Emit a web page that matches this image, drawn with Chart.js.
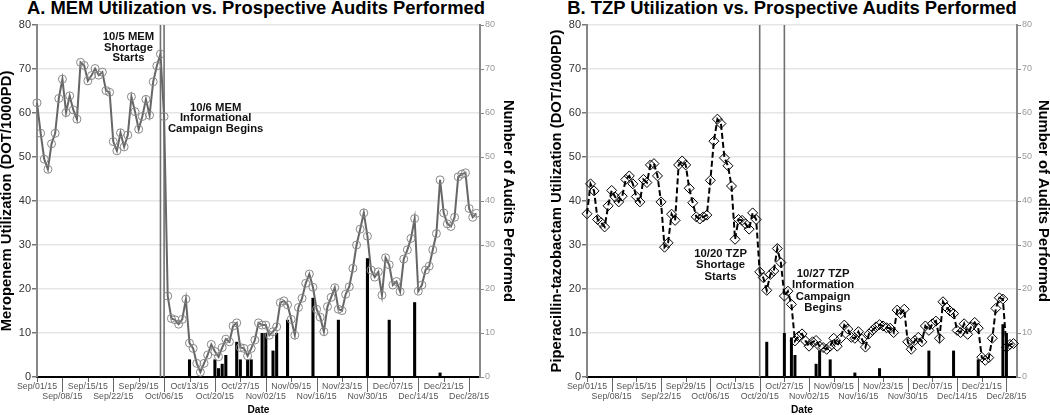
<!DOCTYPE html>
<html>
<head>
<meta charset="utf-8">
<script src="https://cdn.jsdelivr.net/npm/chart.js@4.4.1/dist/chart.umd.min.js"></script>
<style>
  body { margin: 0; background: #fff; width: 1050px; height: 415px; overflow: hidden; position: relative;
         font-family: "Liberation Sans", Arial, sans-serif; }
  .title { position: absolute; top: -1px; font-weight: bold; font-size: 18.4px; line-height: 18.4px;
           color: #000; text-align: center; white-space: nowrap; }
  .box { position: absolute; top: 0; height: 415px; }
</style>
</head>
<body>
<div class="title" style="left:0; width:512px">A. MEM Utilization vs. Prospective Audits Performed</div>
<div class="title" style="left:542px; width:500px">B. TZP Utilization vs. Prospective Audits Performed</div>
<div class="box" style="left:0; width:515px"><canvas id="chartA"></canvas></div>
<div class="box" style="left:550px; width:500px"><canvas id="chartB"></canvas></div>

<script>
// x axis: days since Sep/01/15, weekly ticks
const tickDays = [0, 7, 14, 21, 28, 35, 42, 49, 56, 63, 70, 77, 84, 91, 98, 105, 112, 119];
const tickLabels = ['Sep/01/15', 'Sep/08/15', 'Sep/15/15', 'Sep/22/15', 'Sep/29/15', 'Oct/06/15',
  'Oct/13/15', 'Oct/20/15', 'Oct/27/15', 'Nov/02/15', 'Nov/09/15', 'Nov/16/15', 'Nov/23/15',
  'Nov/30/15', 'Dec/07/15', 'Dec/14/15', 'Dec/21/15', 'Dec/28/15'];

// daily utilization (DOT/1000PD), Sep 1 .. Dec 31
const memUtil = [62.3, 55.4, 49.5, 47.2, 53.0, 55.4, 63.3, 67.7, 60.1, 63.9,
  60.7, 58.6, 71.5, 70.8, 67.3, 68.5, 70.1, 68.6, 69.3, 65.1,
  64.7, 53.5, 51.4, 55.5, 52.3, 55.0, 63.7, 60.3, 56.3, 59.2,
  63.1, 59.5, 67.1, 70.7, 73.4, 59.2, 18.4, 13.3, 13.0, 12.0,
  13.1, 17.7, 7.7, 6.5, 3.1, 1.1, 3.1, 5.0, 7.4, 5.8,
  4.6, 6.7, 8.6, 8.0, 11.6, 12.3, 6.7, 6.5, 4.8, 6.5,
  8.4, 12.3, 11.8, 11.8, 9.5, 10.3, 11.4, 16.9, 17.3, 16.4,
  13.1, 9.5, 15.8, 17.9, 21.3, 23.4, 20.4, 15.4, 13.6, 10.3,
  16.0, 18.1, 20.3, 15.4, 15.1, 18.8, 20.5, 24.7, 30.0, 33.6,
  37.3, 32.0, 24.3, 22.7, 23.9, 18.6, 27.1, 25.5, 20.9, 21.7,
  19.4, 26.8, 28.9, 31.5, 36.0, 19.5, 20.9, 24.3, 25.2, 28.9,
  32.6, 44.8, 37.3, 34.8, 34.2, 36.3, 45.5, 46.1, 46.4, 38.3,
  36.3, 37.2];
const tzpUtil = [37.1, 43.9, 42.3, 35.8, 35.1, 34.1, 38.9, 42.4, 40.9, 39.8,
  41.1, 44.9, 45.7, 43.9, 41.0, 39.8, 44.9, 44.2, 48.2, 48.5,
  45.7, 39.8, 29.5, 30.5, 37.0, 35.6, 48.2, 49.1, 48.2, 42.9,
  39.6, 36.4, 35.9, 36.4, 36.8, 44.7, 53.6, 58.6, 57.6, 49.8,
  48.0, 43.4, 31.3, 35.8, 35.6, 34.8, 33.6, 37.3, 35.8, 23.9,
  22.6, 19.7, 23.3, 24.1, 29.2, 26.0, 18.4, 19.5, 16.5, 8.2,
  9.2, 9.8, 8.2, 7.0, 8.0, 8.3, 7.0, 6.7, 6.3, 7.0,
  8.8, 7.0, 8.8, 11.8, 10.9, 9.0, 8.8, 10.3, 8.6, 6.8,
  9.8, 10.6, 11.4, 11.9, 11.6, 11.2, 11.1, 10.1, 15.2, 14.4,
  15.4, 8.0, 6.3, 8.3, 9.0, 8.0, 11.6, 10.6, 12.1, 12.7,
  8.8, 17.1, 15.8, 15.0, 14.4, 10.6, 10.1, 12.1, 9.7, 11.4,
  12.4, 11.1, 4.5, 3.8, 4.4, 8.8, 15.6, 18.0, 17.7, 6.7,
  7.4, 7.6];

// prospective audits (only days with audits)
const memAuditDays = [42, 49, 50, 51, 52, 55, 56, 58, 59, 62, 63, 65, 66, 69, 76, 83, 91, 97, 104, 111];
const memAuditCounts = [4, 4, 2, 3, 5, 8, 4, 4, 4, 10, 10, 6, 10, 13, 18, 13, 27, 13, 17, 1];
const tzpAuditDays = [51, 56, 58, 59, 65, 66, 69, 76, 83, 97, 104, 111, 118, 119];
const tzpAuditCounts = [8, 10, 9, 5, 3, 6, 4, 1, 2, 6, 6, 4, 12, 10];

// event markers (day index) and their notes
const memEvents = [34, 35];
const tzpEvents = [49, 56];
const memNotes = [
  { day: 25.2, value: 77.2, lines: ['10/5 MEM', 'Shortage', 'Starts'] },
  { day: 49.2, value: 61.2, lines: ['10/6 MEM', 'Informational', 'Campaign Begins'] }
];
const tzpNotes = [
  { day: 37.9, value: 28.0, lines: ['10/20 TZP', 'Shortage', 'Starts'] },
  { day: 67.0, value: 23.5, lines: ['10/27 TZP', 'Information', 'Campaign', 'Begins'] }
];

Chart.defaults.font.family = '"Liberation Sans", Arial, sans-serif';

// event lines, two-level x ticks, text notes
const overlay = {
  id: 'overlay',
  beforeDatasetsDraw(chart, args, opts) {
    const { ctx, chartArea, scales } = chart;
    ctx.save();
    ctx.strokeStyle = '#707070';
    ctx.lineWidth = 1.6;
    opts.events.forEach(d => {
      const x = scales.x.getPixelForValue(d);
      ctx.beginPath();
      ctx.moveTo(x, chartArea.top);
      ctx.lineTo(x, chartArea.bottom);
      ctx.stroke();
    });
    ctx.restore();
  },
  afterDraw(chart, args, opts) {
    const { ctx, chartArea, scales } = chart;
    ctx.save();
    ctx.strokeStyle = '#666';
    ctx.lineWidth = 1;
    tickDays.forEach((d, i) => {
      const x = Math.round(scales.x.getPixelForValue(d)) + 0.5;
      ctx.beginPath();
      ctx.moveTo(x, chartArea.bottom + 1);
      ctx.lineTo(x, chartArea.bottom + (i % 2 ? 15 : 5));
      ctx.stroke();
    });
    ctx.fillStyle = '#111';
    ctx.font = 'bold 11.3px "Liberation Sans", Arial, sans-serif';
    ctx.textAlign = 'center';
    ctx.textBaseline = 'middle';
    opts.notes.forEach(n => {
      const x = scales.x.getPixelForValue(n.day);
      const y = scales.y.getPixelForValue(n.value);
      n.lines.forEach((t, k) => ctx.fillText(t, x, y + k * opts.gap));
    });
    ctx.restore();
  }
};

function makeChart(id, cfg) {
  const lineData = cfg.util.map((v, i) => ({ x: i, y: v }));
  const barData = cfg.auditDays.map((d, i) => ({ x: d, y: cfg.auditCounts[i] }));
  return new Chart(document.getElementById(id), {
    type: 'bar',
    data: {
      datasets: [
        Object.assign({
          type: 'line',
          data: lineData,
          yAxisID: 'y',
          order: 0,
          tension: 0,
          clip: 8,
          fill: false
        }, cfg.lineStyle),
        {
          type: 'bar',
          data: barData,
          yAxisID: 'y2',
          order: 1,
          backgroundColor: '#000',
          borderWidth: 0,
          barPercentage: 0.85,
          categoryPercentage: 1
        }
      ]
    },
    options: {
      responsive: true,
      maintainAspectRatio: false,
      animation: false,
      layout: { padding: { top: 25, left: 0, right: 0, bottom: 0 } },
      plugins: {
        legend: { display: false },
        tooltip: { enabled: false },
        overlay: { events: cfg.events, notes: cfg.notes, gap: cfg.gap }
      },
      scales: {
        x: {
          type: 'linear',
          offset: false,
          min: 0,
          max: 122,
          afterBuildTicks: s => { s.ticks = tickDays.map(v => ({ value: v })); },
          ticks: {
            autoSkip: false, maxRotation: 0, minRotation: 0, padding: 5,
            color: '#555', font: { size: 8.8, lineHeight: 1.12 },
            callback: (v, i) => (i % 2 === 0 ? [tickLabels[i], ''] : ['', tickLabels[i]])
          },
          grid: { display: true, offset: false, drawOnChartArea: false, drawTicks: false },
          border: { display: true, color: '#000', width: 2, dash: [2, 2] },
          title: { display: true, text: 'Date', color: '#000', padding: 0,
                   font: { size: 10.2, weight: 'bold', lineHeight: 1 } },
          afterFit: s => { s.height = 38; }
        },
        y: {
          position: 'left',
          min: 0, max: 80,
          ticks: { stepSize: 10, color: '#333', font: { size: 11 }, padding: 1 },
          grid: { color: '#e6e6e6', lineWidth: 1.5, tickColor: '#777', tickLength: 5 },
          border: { color: '#888', width: 2 },
          title: { display: true, text: cfg.leftTitle, color: '#000', padding: 0,
                   font: { size: 14.8, weight: 'bold', lineHeight: 1 } },
          afterFit: s => { s.width = 37; }
        },
        y2: {
          position: 'right',
          min: 0, max: 80,
          ticks: { stepSize: 10, color: '#999', font: { size: 9 }, padding: 1 },
          grid: { drawOnChartArea: false, tickColor: '#888', tickLength: 4 },
          border: { color: '#888', width: 2 },
          title: { display: true, text: 'Number of Audits Performed', color: '#000', padding: 0,
                   font: { size: 14.8, weight: 'bold', lineHeight: 1 } },
          afterFit: s => { s.width = cfg.rightWidth; }
        }
      }
    },
    plugins: [overlay]
  });
}

makeChart('chartA', {
  util: memUtil,
  auditDays: memAuditDays,
  auditCounts: memAuditCounts,
  events: memEvents,
  notes: memNotes,
  gap: 10.5,
  rightWidth: 35,
  leftTitle: 'Meropenem Utilization (DOT/1000PD)',
  lineStyle: {
    borderColor: '#666', borderWidth: 2,
    pointStyle: 'circle', pointRadius: 4,
    pointBorderColor: '#888', pointBorderWidth: 1, pointBackgroundColor: 'rgba(255,255,255,0)'
  }
});

makeChart('chartB', {
  util: tzpUtil,
  auditDays: tzpAuditDays,
  auditCounts: tzpAuditCounts,
  events: tzpEvents,
  notes: tzpNotes,
  gap: 11.5,
  rightWidth: 33,
  leftTitle: 'Piperacillin-tazobactam Utilization (DOT/1000PD)',
  lineStyle: {
    borderColor: '#000', borderWidth: 2, borderDash: [6, 3],
    pointStyle: 'rectRot', pointRadius: 5,
    pointBorderColor: '#000', pointBorderWidth: 1, pointBackgroundColor: 'rgba(255,255,255,0)'
  }
});
</script>
</body>
</html>
